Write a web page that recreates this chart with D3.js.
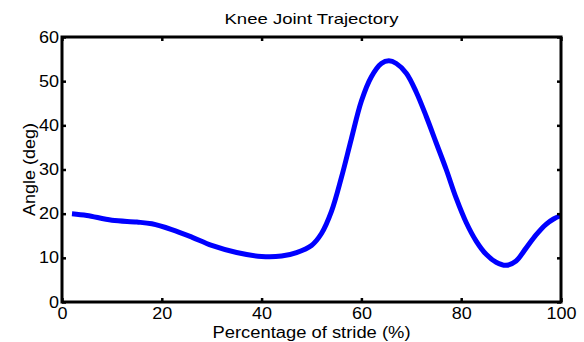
<!DOCTYPE html>
<html>
<head>
<meta charset="utf-8">
<script src="https://cdn.jsdelivr.net/npm/d3@7"></script>
<style>
  body { margin: 0; background: #fff; }
  svg text { font-family: "Liberation Sans", Arial, sans-serif; fill: #000; }
</style>
</head>
<body>
<div id="chart"></div>
<script>
// stride percentage and knee angle
const stride = [2, 5, 10, 15, 18, 22, 26, 30, 35, 40, 44, 47, 50, 52, 54, 56, 58, 60, 62, 64, 65.5, 67, 69, 71, 73, 75, 77, 79, 81, 83, 85, 87, 89, 91, 93, 95, 97, 98.5, 100];
const angle = [20.0, 19.6, 18.5, 18.1, 17.7, 16.4, 14.7, 12.8, 11.2, 10.3, 10.4, 11.2, 12.8, 15.5, 20.5, 28.2, 37, 45.5, 51, 54, 54.6, 54, 51.8, 47.5, 42, 36, 30, 23.5, 18, 13.8, 10.8, 9.0, 8.3, 9.3, 12.2, 15.2, 17.6, 18.8, 19.6];
const xTicks = [0, 20, 40, 60, 80, 100];
const yTicks = [0, 10, 20, 30, 40, 50, 60];

const W = 584, H = 342;
const margin = { left: 62, top: 37, right: 23, bottom: 40 };
const w = W - margin.left - margin.right;
const h = H - margin.top - margin.bottom;

const svg = d3.select('#chart').append('svg')
  .attr('width', W)
  .attr('height', H);

const x = d3.scaleLinear().domain([0, 100]).range([0, w]);
const y = d3.scaleLinear().domain([0, 60]).range([h, 0]);

const g = svg.append('g')
  .attr('transform', `translate(${margin.left},${margin.top})`);

// curve
const line = d3.line()
  .x((d, i) => x(stride[i]))
  .y(d => y(d))
  .curve(d3.curveCatmullRom.alpha(0.5));

g.append('path')
  .datum(angle)
  .attr('fill', 'none')
  .attr('stroke', '#0000ff')
  .attr('stroke-width', 5)
  .attr('stroke-linejoin', 'round')
  .attr('d', line);

// box
g.append('rect')
  .attr('width', w)
  .attr('height', h)
  .attr('fill', 'none')
  .attr('stroke', '#000')
  .attr('stroke-width', 3);

// inward ticks, both sides
const xAxis = d3.axisBottom(x).tickValues(xTicks).tickSizeInner(-4).tickSizeOuter(0).tickPadding(6);
const yAxis = d3.axisLeft(y).tickValues(yTicks).tickSizeInner(-4).tickSizeOuter(0).tickPadding(3);

const gx = g.append('g').attr('transform', `translate(0,${h})`).call(xAxis);
const gy = g.append('g').call(yAxis);
g.append('g').call(d3.axisTop(x).tickValues(xTicks).tickSizeInner(-4).tickSizeOuter(0).tickFormat(''));
g.append('g').attr('transform', `translate(${w},0)`)
  .call(d3.axisRight(y).tickValues(yTicks).tickSizeInner(-4).tickSizeOuter(0).tickFormat(''));

g.selectAll('.domain').remove();
g.selectAll('.tick line').attr('stroke', '#000').attr('stroke-width', 2.5);
g.selectAll('.tick text').attr('font-size', 16).attr('fill', '#000')
  .attr('font-family', '"Liberation Sans", Arial, sans-serif')
  .attr('textLength', function () { return this.textContent.length * 10; })
  .attr('lengthAdjust', 'spacingAndGlyphs');

// labels
svg.append('text')
  .attr('x', margin.left + w / 2)
  .attr('y', 24)
  .attr('text-anchor', 'middle')
  .attr('font-size', 15)
  .attr('textLength', 174)
  .attr('lengthAdjust', 'spacingAndGlyphs')
  .text('Knee Joint Trajectory');

svg.append('text')
  .attr('x', margin.left + w / 2)
  .attr('y', 338)
  .attr('text-anchor', 'middle')
  .attr('font-size', 16)
  .attr('textLength', 198)
  .attr('lengthAdjust', 'spacingAndGlyphs')
  .text('Percentage of stride (%)');

svg.append('text')
  .attr('transform', `translate(35,${margin.top + h / 2}) rotate(-90)`)
  .attr('text-anchor', 'middle')
  .attr('font-size', 16)
  .attr('textLength', 93)
  .attr('lengthAdjust', 'spacingAndGlyphs')
  .text('Angle (deg)');
</script>
</body>
</html>
